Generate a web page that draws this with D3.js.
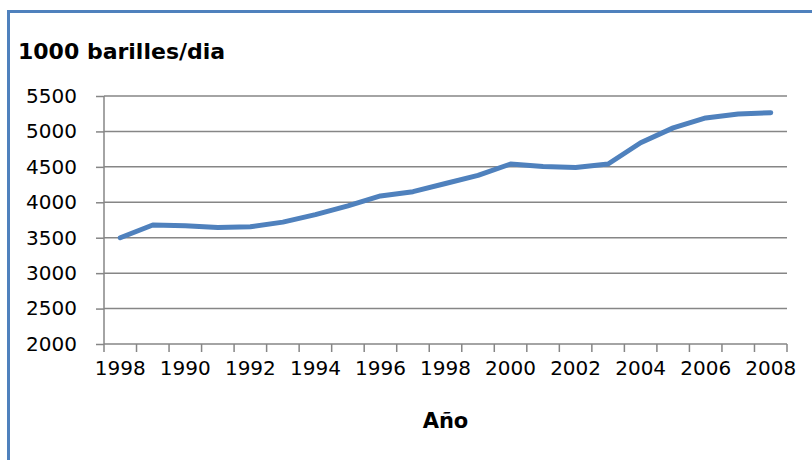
<!DOCTYPE html>
<html>
<head>
<meta charset="utf-8">
<script src="https://cdn.jsdelivr.net/npm/d3@7"></script>
<style>
  body { margin: 0; background: #fff; }
  svg { display: block; font-family: "DejaVu Sans", sans-serif; }
</style>
</head>
<body>
<div id="chart"></div>
<script>
// categories as they appear on the axis (first label reads 1998 in the original)
var categories = ["1998","1989","1990","1991","1992","1993","1994","1995","1996","1997",
  "1998","1999","2000","2001","2002","2003","2004","2005","2006","2007","2008"];
var values = [3500,3680,3670,3645,3655,3720,3825,3950,4090,4150,
  4265,4380,4540,4505,4490,4540,4840,5050,5190,5245,5265];
var yTicks = [2000,2500,3000,3500,4000,4500,5000,5500];

var width = 812, height = 460,
  margin = {top:96, left:104, right:25, bottom:116},
  blue = "#4f81bd", grid = "#868686",
  font = "'DejaVu Sans', sans-serif";

var svg = d3.select("#chart").append("svg")
  .attr("width", width)
  .attr("height", height);

// outer frame of the chart area
svg.append("rect")
  .attr("x", 8.5).attr("y", 11.5)
  .attr("width", 830).attr("height", 480)
  .attr("fill", "none")
  .attr("stroke", blue)
  .attr("stroke-width", 3);

// band per category index (labels repeat, so use the index as key)
var x = d3.scaleBand()
  .domain(d3.range(categories.length))
  .range([margin.left, width - margin.right])
  .paddingInner(0).paddingOuter(0);

var y = d3.scaleLinear()
  .domain([2000, 5500])
  .range([height - margin.bottom, margin.top]);

// y axis ticks and labels
var yAxis = svg.append("g")
  .attr("transform", "translate(" + margin.left + ",0)")
  .call(d3.axisLeft(y).tickValues(yTicks).tickFormat(d3.format("d"))
    .tickSize(8).tickPadding(19).tickSizeOuter(0));
yAxis.attr("font-family", font).attr("font-size", 20);
yAxis.select(".domain").remove();
yAxis.selectAll("line").attr("stroke", grid).attr("stroke-width", 1.5);
yAxis.selectAll("text").attr("fill", "#000");

// gridlines
svg.append("g")
  .selectAll("line")
  .data(yTicks)
  .enter().append("line")
  .attr("x1", margin.left).attr("x2", width - margin.right)
  .attr("y1", function(d) { return y(d); })
  .attr("y2", function(d) { return y(d); })
  .attr("stroke", grid).attr("stroke-width", 1.5);

svg.append("line")
  .attr("x1", margin.left).attr("x2", margin.left)
  .attr("y1", y(5500)).attr("y2", y(2000))
  .attr("stroke", grid).attr("stroke-width", 1.5);

// x axis labels, every other category
var xAxis = svg.append("g")
  .attr("transform", "translate(0," + y(2000) + ")")
  .call(d3.axisBottom(x)
    .tickValues(d3.range(0, categories.length, 2))
    .tickFormat(function(i) { return categories[i]; })
    .tickSize(0).tickPadding(17));
xAxis.attr("font-family", font).attr("font-size", 20);
xAxis.select(".domain").remove();
xAxis.selectAll("text").attr("fill", "#000");

// tick marks at category boundaries
svg.append("g")
  .selectAll("line")
  .data(d3.range(categories.length + 1))
  .enter().append("line")
  .attr("x1", function(i) { return x.range()[0] + i * x.step(); })
  .attr("x2", function(i) { return x.range()[0] + i * x.step(); })
  .attr("y1", y(2000)).attr("y2", y(2000) + 8)
  .attr("stroke", grid).attr("stroke-width", 1.5);

// the series
var line = d3.line()
  .x(function(d, i) { return x(i) + x.bandwidth() / 2; })
  .y(function(d) { return y(d); });

svg.append("path")
  .datum(values)
  .attr("d", line)
  .attr("fill", "none")
  .attr("stroke", blue)
  .attr("stroke-width", 5)
  .attr("stroke-linejoin", "round")
  .attr("stroke-linecap", "round");

// titles
svg.append("text")
  .attr("x", 18).attr("y", 59)
  .attr("font-size", 22).attr("font-weight", "bold")
  .text("1000 barilles/dia");

svg.append("text")
  .attr("x", (x.range()[0] + x.range()[1]) / 2).attr("y", 428)
  .attr("text-anchor", "middle")
  .attr("font-size", 21).attr("font-weight", "bold")
  .text("Año");
</script>
</body>
</html>
